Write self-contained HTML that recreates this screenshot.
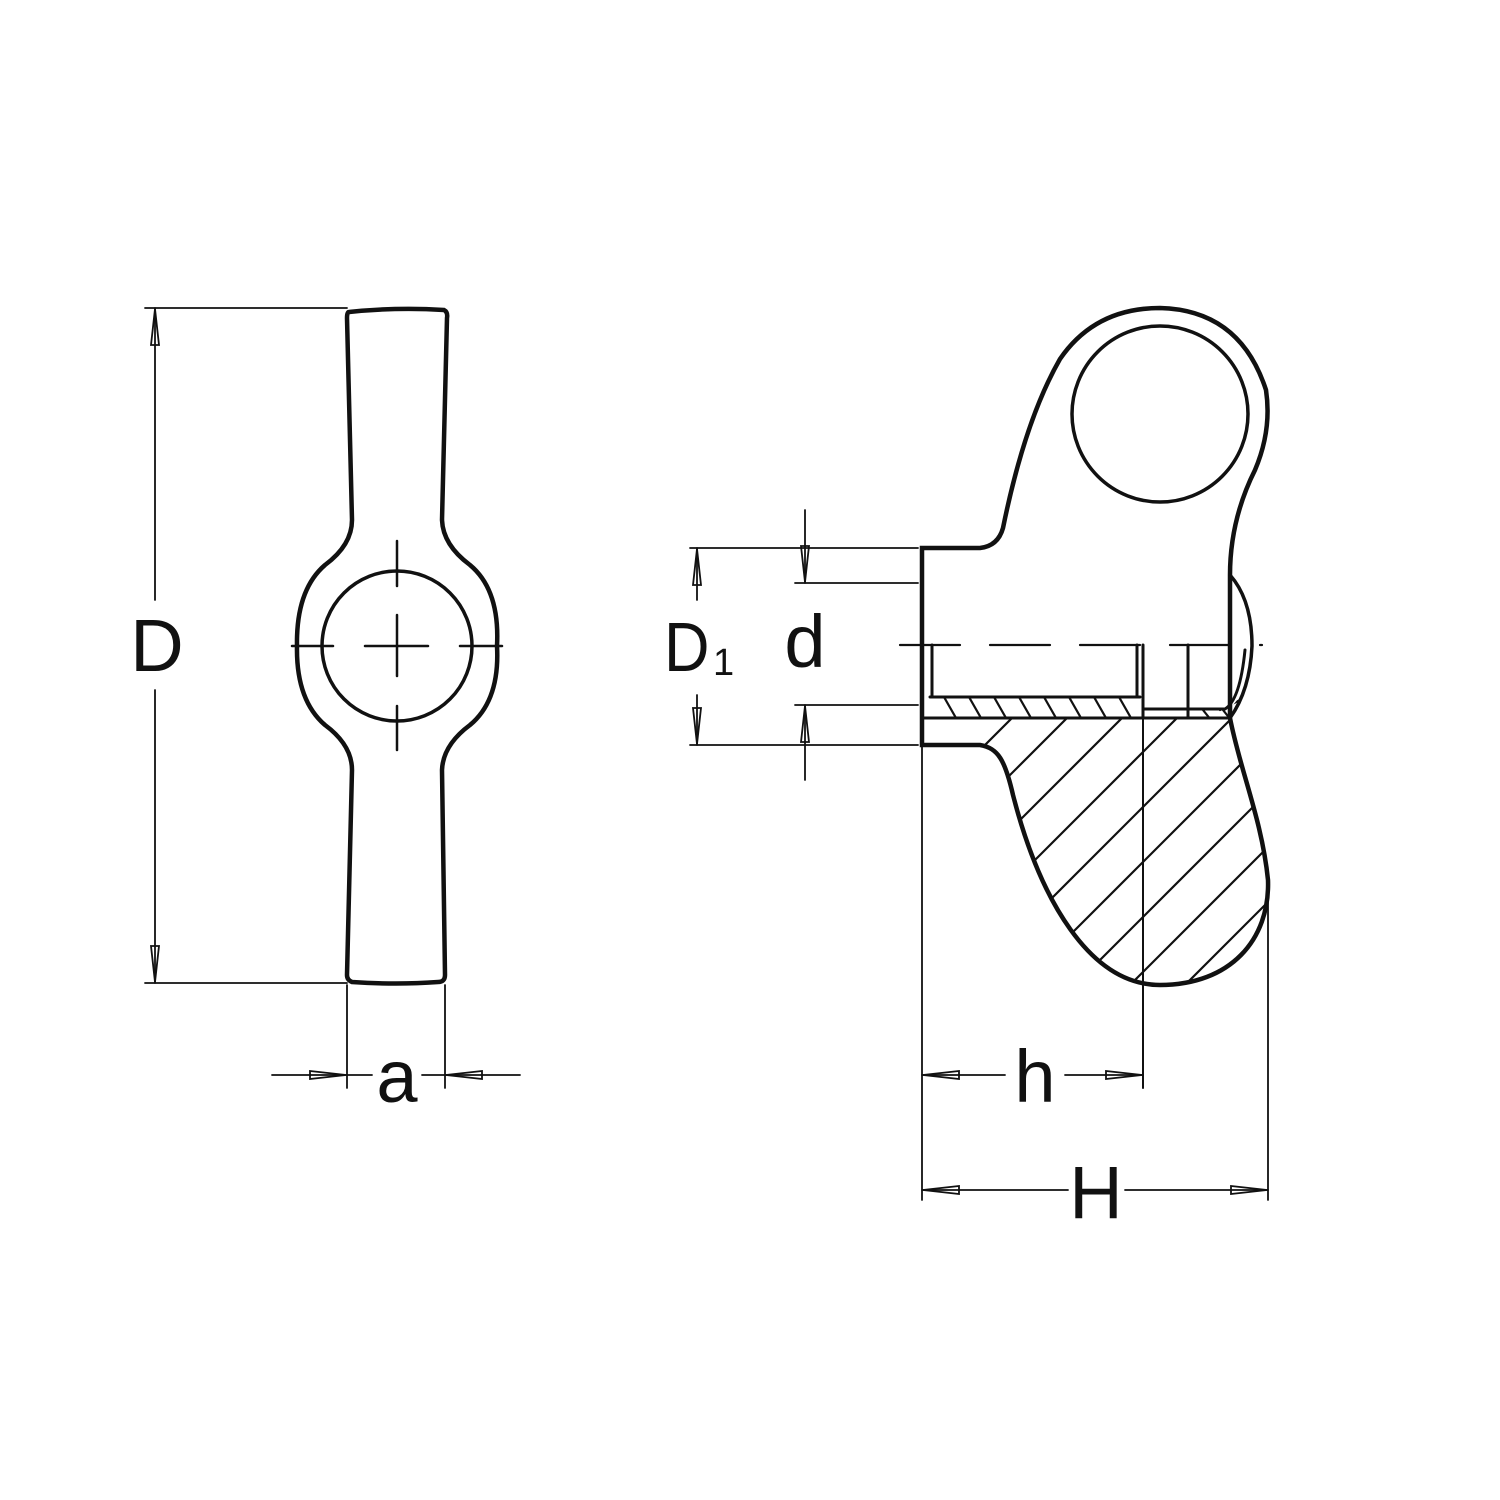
<!DOCTYPE html>
<html><head><meta charset="utf-8"><style>
html,body{margin:0;padding:0;background:#fff;}
svg{display:block;}
text{font-family:"Liberation Sans","DejaVu Sans",sans-serif;fill:#111;}
</style></head><body>
<svg width="1500" height="1500" viewBox="0 0 1500 1500" xmlns="http://www.w3.org/2000/svg">
<defs>
<clipPath id="sec"><path d="M1230,718 C1240,770 1262,820 1268,880 C1270,940 1230,985 1160,985 C1090,985 1040,900 1013,795 C1005,760 998,748 980,745 L930,745 L930,718 Z"/></clipPath>
<clipPath id="strip"><path d="M930,697 L1140,697 L1145,717 L930,717 Z M1188,709 L1230,709 L1245,690 L1250,650 L1255,650 L1250,718 L1188,718 Z"/></clipPath>
</defs>
<g fill="none" stroke="#111" stroke-linecap="round">
<path stroke-width="4.5" d="M349,312 Q397,307 444,310 Q448,312 447,318 L442,520 Q443,545 470,565 Q500,590 497,646 Q500,700 470,725 Q443,745 442,770 L445,975 Q445,982 438,982 Q397,985 352,982 Q347,980 347,975 L352,770 Q352,745 325,725 Q296,700 297,646 Q296,590 325,565 Q352,545 352,520 L347,318 Q347,312 349,312 Z"/>
<circle cx="397" cy="646" r="75" stroke-width="3.5"/>
<g stroke-width="2.5">
<line x1="292" y1="646" x2="333" y2="646"/><line x1="365" y1="646" x2="428" y2="646"/><line x1="460" y1="646" x2="502" y2="646"/>
<line x1="397" y1="541" x2="397" y2="586"/><line x1="397" y1="615" x2="397" y2="676"/><line x1="397" y1="706" x2="397" y2="750"/>
</g>
<g stroke-width="1.8">
<line x1="145" y1="308" x2="347" y2="308"/><line x1="145" y1="983" x2="347" y2="983"/>
<line x1="155" y1="308" x2="155" y2="600"/><line x1="155" y1="690" x2="155" y2="983"/>
<path d="M155,309 L151,345 L159,345 Z"/><path d="M155,982 L151,946 L159,946 Z"/>
<line x1="347" y1="985" x2="347" y2="1088"/><line x1="445" y1="985" x2="445" y2="1088"/>
<line x1="272" y1="1075" x2="372" y2="1075"/><line x1="422" y1="1075" x2="520" y2="1075"/>
<path d="M346,1075 L310,1071 L310,1079 Z"/><path d="M446,1075 L482,1071 L482,1079 Z"/>
</g>
<path stroke-width="4.5" d="M922,548 L980,548 Q998,546 1003,528 Q1025,420 1060,359 Q1095,308 1160,308 Q1240,310 1266,390 Q1272,430 1255,470 Q1230,520 1230,575 L1230,718 C1240,770 1262,820 1268,880 C1270,940 1230,985 1160,985 C1090,985 1040,900 1013,795 C1005,760 998,748 980,745 L922,745 Z"/>
<path stroke-width="3.5" d="M1230,575 Q1252,600 1252,646 Q1250,690 1230,718"/>
<circle cx="1160" cy="414" r="88" stroke-width="3.5"/>
<g stroke-width="3">
<line x1="932" y1="645" x2="932" y2="697"/><line x1="1137" y1="645" x2="1137" y2="697"/>
<line x1="1143" y1="645" x2="1143" y2="718"/><line x1="1188" y1="645" x2="1188" y2="718"/>
<line x1="930" y1="697" x2="1140" y2="697"/><line x1="922" y1="718" x2="1230" y2="718"/>
<line x1="1143" y1="709" x2="1188" y2="709"/>
<path d="M1188,709 L1225,709 Q1240,700 1245,650"/>
</g>
<g stroke-width="2.2" clip-path="url(#strip)">
<path d="M940,690 l20,35 M965,690 l20,35 M990,690 l20,35 M1015,690 l20,35 M1040,690 l20,35 M1065,690 l20,35 M1090,690 l20,35 M1115,690 l20,35 M1195,700 l20,25 M1215,700 l20,25 M1240,640 l-20,10 M1240,655 l-20,10 M1240,670 l-20,10 M1240,685 l-20,10 M1240,700 l-20,10"/>
</g>
<g stroke-width="2.2" clip-path="url(#sec)">
<path d="M900,830 l400,-400 M900,885 l400,-400 M900,940 l400,-400 M900,995 l400,-400 M900,1050 l400,-400 M900,1105 l400,-400 M900,1160 l400,-400 M900,1215 l400,-400 M900,1270 l400,-400 M900,1325 l400,-400"/>
</g>
<line x1="900" y1="645" x2="1262" y2="645" stroke-width="2.2" stroke-dasharray="60,30"/>
<line x1="1143" y1="718" x2="1143" y2="1088" stroke-width="2"/>
<g stroke-width="1.8">
<line x1="690" y1="548" x2="918" y2="548"/><line x1="690" y1="745" x2="918" y2="745"/>
<line x1="697" y1="548" x2="697" y2="600"/><line x1="697" y1="695" x2="697" y2="745"/>
<path d="M697,549 L693,585 L701,585 Z"/><path d="M697,744 L693,708 L701,708 Z"/>
<line x1="795" y1="583" x2="918" y2="583"/><line x1="795" y1="705" x2="918" y2="705"/>
<line x1="805" y1="510" x2="805" y2="583"/><line x1="805" y1="705" x2="805" y2="780"/>
<path d="M805,582 L801,546 L809,546 Z"/><path d="M805,706 L801,742 L809,742 Z"/>
<line x1="922" y1="745" x2="922" y2="1200"/><line x1="1268" y1="880" x2="1268" y2="1200"/>
<line x1="922" y1="1075" x2="1005" y2="1075"/><line x1="1065" y1="1075" x2="1143" y2="1075"/>
<path d="M923,1075 L959,1071 L959,1079 Z"/><path d="M1142,1075 L1106,1071 L1106,1079 Z"/>
<line x1="922" y1="1190" x2="1068" y2="1190"/><line x1="1125" y1="1190" x2="1268" y2="1190"/>
<path d="M923,1190 L959,1186 L959,1194 Z"/><path d="M1267,1190 L1231,1186 L1231,1194 Z"/>
</g>
</g>
<text x="157" y="671" font-size="74" text-anchor="middle">D</text>
<text x="397" y="1102" font-size="74" text-anchor="middle">a</text>
<text x="664" y="671" font-size="70" transform="translate(664 0) scale(0.9 1) translate(-664 0)">D</text><text x="713" y="675" font-size="38">1</text>
<text x="805" y="667" font-size="74" text-anchor="middle">d</text>
<text x="1035" y="1102" font-size="74" text-anchor="middle">h</text>
<text x="1096" y="1218" font-size="74" text-anchor="middle">H</text>
</svg>
</body></html>
